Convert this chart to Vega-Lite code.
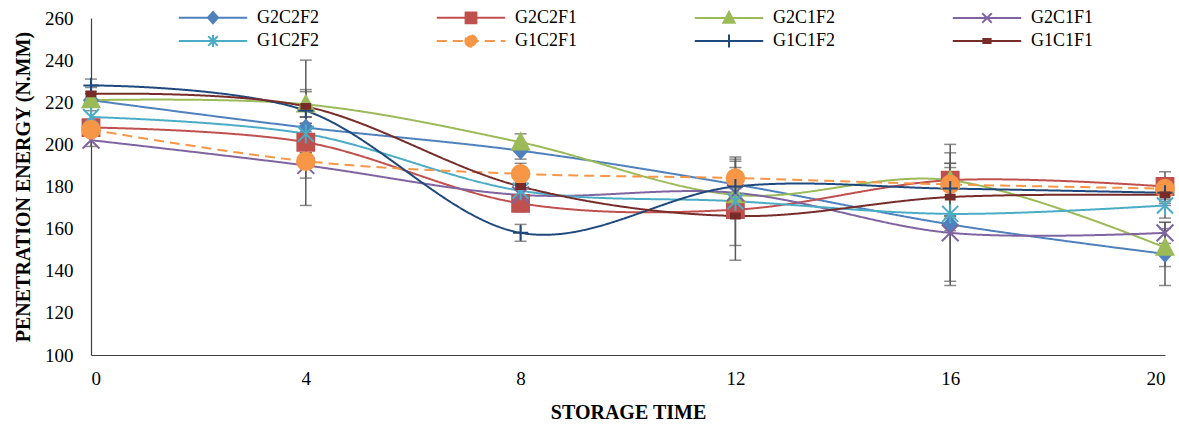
{
  "$schema": "https://vega.github.io/schema/vega-lite/v6.json",
  "width": 1074,
  "height": 337,
  "autosize": {"type": "none"},
  "padding": {"left": 91, "top": 18, "right": 14, "bottom": 71},
  "config": {"view": {"stroke": null}, "font": "Liberation Serif"},
  "data": {"values": [
    {"series": "G2C2F2", "t": 0, "value": 221, "err": 3},
    {"series": "G2C2F2", "t": 4, "value": 208, "err": 5},
    {"series": "G2C2F2", "t": 8, "value": 197, "err": 4},
    {"series": "G2C2F2", "t": 12, "value": 181, "err": 8},
    {"series": "G2C2F2", "t": 16, "value": 162, "err": 27},
    {"series": "G2C2F2", "t": 20, "value": 148, "err": 15},
    {"series": "G2C2F1", "t": 0, "value": 208, "err": 3},
    {"series": "G2C2F1", "t": 4, "value": 201, "err": 5},
    {"series": "G2C2F1", "t": 8, "value": 172, "err": 4},
    {"series": "G2C2F1", "t": 12, "value": 169, "err": 24},
    {"series": "G2C2F1", "t": 16, "value": 183, "err": 17},
    {"series": "G2C2F1", "t": 20, "value": 180, "err": 7},
    {"series": "G2C1F2", "t": 0, "value": 221, "err": 3},
    {"series": "G2C1F2", "t": 4, "value": 219, "err": 6},
    {"series": "G2C1F2", "t": 8, "value": 201, "err": 4},
    {"series": "G2C1F2", "t": 12, "value": 176, "err": 6},
    {"series": "G2C1F2", "t": 16, "value": 183, "err": 8},
    {"series": "G2C1F2", "t": 20, "value": 151, "err": 9},
    {"series": "G2C1F1", "t": 0, "value": 202, "err": 3},
    {"series": "G2C1F1", "t": 4, "value": 190, "err": 6},
    {"series": "G2C1F1", "t": 8, "value": 176, "err": 3},
    {"series": "G2C1F1", "t": 12, "value": 177, "err": 5},
    {"series": "G2C1F1", "t": 16, "value": 158, "err": 25},
    {"series": "G2C1F1", "t": 20, "value": 158, "err": 5},
    {"series": "G1C2F2", "t": 0, "value": 213, "err": 3},
    {"series": "G1C2F2", "t": 4, "value": 205, "err": 5},
    {"series": "G1C2F2", "t": 8, "value": 178, "err": 4},
    {"series": "G1C2F2", "t": 12, "value": 173, "err": 6},
    {"series": "G1C2F2", "t": 16, "value": 167, "err": 8},
    {"series": "G1C2F2", "t": 20, "value": 171, "err": 6},
    {"series": "G1C2F1", "t": 0, "value": 207, "err": 3},
    {"series": "G1C2F1", "t": 4, "value": 192, "err": 21},
    {"series": "G1C2F1", "t": 8, "value": 186, "err": 5},
    {"series": "G1C2F1", "t": 12, "value": 184, "err": 10},
    {"series": "G1C2F1", "t": 16, "value": 181, "err": 15},
    {"series": "G1C2F1", "t": 20, "value": 179, "err": 5},
    {"series": "G1C1F2", "t": 0, "value": 228, "err": 3},
    {"series": "G1C1F2", "t": 4, "value": 216, "err": 24},
    {"series": "G1C1F2", "t": 8, "value": 158, "err": 4},
    {"series": "G1C1F2", "t": 12, "value": 180, "err": 12},
    {"series": "G1C1F2", "t": 16, "value": 179, "err": 12},
    {"series": "G1C1F2", "t": 20, "value": 177, "err": 5},
    {"series": "G1C1F1", "t": 0, "value": 224, "err": 3},
    {"series": "G1C1F1", "t": 4, "value": 218, "err": 8},
    {"series": "G1C1F1", "t": 8, "value": 180, "err": 4},
    {"series": "G1C1F1", "t": 12, "value": 166, "err": 14},
    {"series": "G1C1F1", "t": 16, "value": 175, "err": 10},
    {"series": "G1C1F1", "t": 20, "value": 176, "err": 5}
  ]},
  "encoding": {
    "x": {
      "field": "t", "type": "quantitative",
      "scale": {"domain": [0, 20], "nice": false, "zero": false},
      "axis": {
        "values": [0, 4, 8, 12, 16, 20], "grid": false, "ticks": false,
        "domainColor": "#404040", "domainWidth": 1.2,
        "labelFont": "Liberation Serif", "labelFontSize": 19, "labelColor": "#000000", "labelPadding": 14,
        "title": "STORAGE TIME", "titleFont": "Liberation Serif", "titleFontSize": 20, "titleFontWeight": "bold",
        "titleColor": "#000000", "titlePadding": 14
      }
    },
    "y": {
      "field": "value", "type": "quantitative",
      "scale": {"domain": [100, 260], "nice": false, "zero": false},
      "axis": {
        "values": [100, 120, 140, 160, 180, 200, 220, 240, 260], "grid": false, "ticks": false,
        "domainColor": "#404040", "domainWidth": 1.2,
        "labelFont": "Liberation Serif", "labelFontSize": 19, "labelColor": "#000000", "labelPadding": 18,
        "title": "PENETRATION ENERGY (N.MM)", "titleFont": "Liberation Serif", "titleFontSize": 20, "titleFontWeight": "bold",
        "titleColor": "#000000", "titlePadding": 11
      }
    }
  },
  "layer": [
    {
      "mark": {"type": "errorbar", "ticks": true, "size": 12, "thickness": 1.5, "color": "#5a5a5a"},
      "encoding": {
        "yError": {"field": "err"}
      }
    },
    {
      "mark": {"type": "line", "interpolate": "cardinal", "strokeWidth": 2},
      "encoding": {
        "stroke": {
          "field": "series", "type": "nominal",
          "scale": {
            "domain": ["G2C2F2", "G2C2F1", "G2C1F2", "G2C1F1", "G1C2F2", "G1C2F1", "G1C1F2", "G1C1F1"],
            "range": ["#4F81BD", "#C0504D", "#9BBB59", "#8064A2", "#4BACC6", "#F79646", "#1F497D", "#772C2A"]
          },
          "legend": {
            "title": null, "orient": "none", "legendX": 113, "legendY": -10, "direction": "horizontal",
            "columns": 4, "gridAlign": "all", "columnPadding": 112, "rowPadding": 2, "padding": 0,
            "symbolSize": 144, "symbolStrokeWidth": 2, "labelOffset": 35,
            "labelFont": "Liberation Serif", "labelFontSize": 18, "labelColor": "#000000", "labelLimit": 200,
            "encode": {
              "symbols": {
                "update": {
                  "shape": {"signal": "datum.value == 'G2C2F2' ? 'M-5.7,0L5.7,0M0,-0.95L0.85,0L0,0.95L-0.85,0Z' : datum.value == 'G2C2F1' ? 'M-5.7,0L5.7,0M-0.9,-0.9L0.9,-0.9L0.9,0.9L-0.9,0.9Z' : datum.value == 'G2C1F2' ? 'M-5.7,0L5.7,0M0,-1L0.95,0.8L-0.95,0.8Z' : datum.value == 'G2C1F1' ? 'M-5.7,0L5.7,0M-0.8,-0.8L0.8,0.8M-0.8,0.8L0.8,-0.8' : datum.value == 'G1C2F2' ? 'M-5.7,0L5.7,0M-0.8,-0.8L0.8,0.8M-0.8,0.8L0.8,-0.8M0,-1L0,1' : datum.value == 'G1C2F1' ? 'M-5.7,0L5.7,0M-0.95,0A0.95,0.95,0,1,0,0.95,0A0.95,0.95,0,1,0,-0.95,0Z' : datum.value == 'G1C1F2' ? 'M-5.7,0L5.7,0M0,-1.1L0,1.1' : 'M-5.7,0L5.7,0M-0.6,-0.35L0.6,-0.35L0.6,0.35L-0.6,0.35Z'"},
                  "fill": {"signal": "scale('stroke', datum.value)"},
                  "stroke": {"signal": "scale('stroke', datum.value)"},
                  "strokeWidth": {"value": 2},
                  "opacity": {"value": 1},
                  "strokeDash": {"signal": "datum.value == 'G1C2F1' ? [6, 4] : [1, 0]"}
                }
              }
            }
          }
        },
        "strokeDash": {
          "field": "series", "type": "nominal",
          "scale": {
            "domain": ["G2C2F2", "G2C2F1", "G2C1F2", "G2C1F1", "G1C2F2", "G1C2F1", "G1C1F2", "G1C1F1"],
            "range": [[1, 0], [1, 0], [1, 0], [1, 0], [1, 0], [10, 6], [1, 0], [1, 0]]
          },
          "legend": null
        }
      }
    },
    {
      "mark": {
        "type": "point", "filled": false, "opacity": 1, "size": 256, "strokeWidth": 2,
        "shape": {"expr": "datum.series == 'G2C2F2' ? 'M0,-0.95L0.85,0L0,0.95L-0.85,0Z' : datum.series == 'G2C2F1' ? 'M-1.05,-1.05L1.05,-1.05L1.05,1.05L-1.05,1.05Z' : datum.series == 'G2C1F2' ? 'M0,-1.1L1.05,0.9L-1.05,0.9Z' : datum.series == 'G2C1F1' ? 'M-1.05,-1.05L1.05,1.05M-1.05,1.05L1.05,-1.05' : datum.series == 'G1C2F2' ? 'M-1,-1L1,1M-1,1L1,-1M0,-1.2L0,1.2' : datum.series == 'G1C2F1' ? 'M-1.1,0A1.1,1.1,0,1,0,1.1,0A1.1,1.1,0,1,0,-1.1,0Z' : datum.series == 'G1C1F2' ? 'M-0.95,0L0.95,0M0,-0.95L0,0.95' : 'M-0.55,-0.3L0.55,-0.3L0.55,0.3L-0.55,0.3Z'"}
      },
      "encoding": {
        "color": {
          "field": "series", "type": "nominal",
          "scale": {
            "domain": ["G2C2F2", "G2C2F1", "G2C1F2", "G2C1F1", "G1C2F2", "G1C2F1", "G1C1F2", "G1C1F1"],
            "range": ["#4F81BD", "#C0504D", "#9BBB59", "#8064A2", "#4BACC6", "#F79646", "#1F497D", "#772C2A"]
          },
          "legend": null
        },
        "fill": {
          "field": "series", "type": "nominal",
          "scale": {
            "domain": ["G2C2F2", "G2C2F1", "G2C1F2", "G2C1F1", "G1C2F2", "G1C2F1", "G1C1F2", "G1C1F1"],
            "range": ["#4F81BD", "#C0504D", "#9BBB59", "#8064A2", "#4BACC6", "#F79646", "#1F497D", "#772C2A"]
          },
          "legend": null
        }
      }
    }
  ]
}
